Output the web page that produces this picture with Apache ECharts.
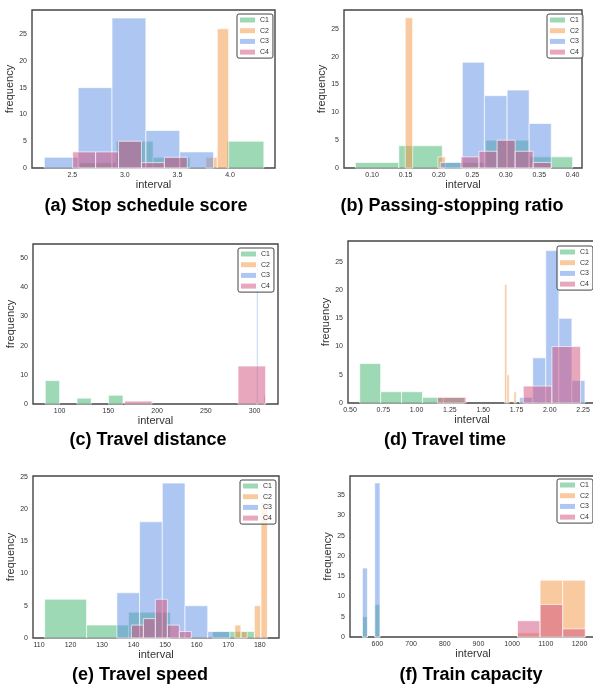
<!DOCTYPE html>
<html>
<head>
<meta charset="utf-8">
<script src="https://cdn.jsdelivr.net/npm/echarts@6/dist/echarts.min.js"></script>
<style>html,body{margin:0;padding:0;background:#fff}#c{width:593px;height:686px}</style>
</head>
<body>
<div id="c"></div>
<script>
// ---- DATA: each bin = [binStart, binEnd, count] ----
const categories = ['C1', 'C2', 'C3', 'C4'];

// (a) Stop schedule score
const scheduleC1 = [[2.567,2.918,1],[2.918,3.269,5],[3.269,3.62,2],[3.971,4.322,5]];
const scheduleC2 = [[3.771,3.879,2],[3.879,3.987,26]];
const scheduleC3 = [[2.234,2.556,2],[2.556,2.878,15],[2.878,3.2,28],[3.2,3.522,7],[3.522,3.844,3]];
const scheduleC4 = [[2.504,2.722,3],[2.722,2.94,3],[2.94,3.158,5],[3.158,3.376,1],[3.376,3.594,2]];
const scheduleTicks = [2.5, 3.0, 3.5, 4.0];

// (b) Passing-stopping ratio
const ratioC1 = [[0.075,0.140,1],[0.140,0.205,4],[0.205,0.270,1],[0.270,0.335,5],[0.335,0.400,2]];
const ratioC2 = [[0.1496,0.1607,27],[0.1985,0.2096,2]];
const ratioC3 = [[0.202,0.235,1],[0.235,0.268,19],[0.268,0.302,13],[0.302,0.335,14],[0.335,0.368,8]];
const ratioC4 = [[0.233,0.260,2],[0.260,0.287,3],[0.287,0.314,5],[0.314,0.341,3],[0.341,0.368,1]];
const ratioTicks = [0.10, 0.15, 0.20, 0.25, 0.30, 0.35, 0.40];

// (c) Travel distance
const distanceC1 = [[85.3,100,8],[117.8,132.5,2],[150.2,165,3]];
const distanceC2 = [];
const distanceC3 = [[302,303.4,52],[309.6,311,3]];
const distanceC4 = [[166.7,194.8,1],[283,311.3,13]];
const distanceTicks = [100, 150, 200, 250, 300];

// (d) Travel time
const timeC1 = [[0.573,0.730,7],[0.730,0.887,2],[0.887,1.044,2],[1.044,1.201,1],[1.201,1.358,1]];
const timeC2 = [[1.661,1.678,21],[1.678,1.695,5],[1.731,1.748,2]];
const timeC3 = [[1.774,1.872,1],[1.872,1.970,8],[1.970,2.068,27],[2.068,2.166,15],[2.166,2.264,4]];
const timeC4 = [[1.156,1.371,1],[1.801,2.016,3],[2.016,2.231,10]];
const timeTicks = [0.50, 0.75, 1.00, 1.25, 1.50, 1.75, 2.00, 2.25];

// (e) Travel speed
const speedC1 = [[111.8,125.1,6],[125.1,138.4,2],[138.4,151.7,4],[165.0,178.3,1]];
const speedC2 = [[172.1,174.0,2],[174.1,176.0,1],[178.3,180.3,5],[180.4,182.4,21]];
const speedC3 = [[134.7,141.9,7],[141.9,149.1,18],[149.1,156.3,24],[156.3,163.5,5],[163.5,170.5,1]];
const speedC4 = [[139.3,143.1,2],[143.1,146.9,3],[146.9,150.7,6],[150.7,154.5,2],[154.5,158.3,1]];
const speedTicks = [110, 120, 130, 140, 150, 160, 170, 180];

// (f) Train capacity
const capacityC1 = [[555.5,570.3,5],[592,607.7,8]];
const capacityC2 = [[1016,1083,1],[1083,1150,14],[1150,1217,14]];
const capacityC3 = [[555.5,570.3,17],[592,607.7,38]];
const capacityC4 = [[1016,1083,4],[1083,1150,8],[1150,1217,2]];
const capacityTicks = [600, 700, 800, 900, 1000, 1100, 1200];

const freqTicks25 = [0, 5, 10, 15, 20, 25];
const freqTicks50 = [0, 10, 20, 30, 40, 50];
const freqTicks35 = [0, 5, 10, 15, 20, 25, 30, 35];

const titles = ['(a) Stop schedule score', '(b) Passing-stopping ratio', '(c) Travel distance',
                '(d) Travel time', '(e) Travel speed', '(f) Train capacity'];

// ---- STYLE / LAYOUT ----
const FONT = 'Liberation Sans, Arial, Helvetica, sans-serif';
const fills = ['rgba(59,179,107,0.5)', 'rgba(243,147,65,0.5)', 'rgba(93,141,229,0.5)', 'rgba(209,79,123,0.5)'];
const pale = ['#9dd9b5', '#f9c9a0', '#aec6f2', '#e8a7bd'];

const panels = [
  { grid:{left:32, top:10, width:243, height:158}, x:[2.117,4.428], ymax:29.5, xt:scheduleTicks, dec:1, yt:freqTicks25,
    data:[scheduleC1,scheduleC2,scheduleC3,scheduleC4], leg:{left:237, top:14}, tpos:[146,206] },
  { grid:{left:344, top:10, width:238, height:158}, x:[0.058,0.414], ymax:28.4, xt:ratioTicks, dec:2, yt:freqTicks25,
    data:[ratioC1,ratioC2,ratioC3,ratioC4], leg:{left:547, top:14}, tpos:[452,206] },
  { grid:{left:33, top:244, width:245, height:160}, x:[72.7,324], ymax:54.8, xt:distanceTicks, dec:0, yt:freqTicks50,
    data:[distanceC1,distanceC2,distanceC3,distanceC4], leg:{left:238, top:248}, tpos:[148,440] },
  { grid:{left:348, top:241, width:248, height:162}, x:[0.485,2.347], ymax:28.7, xt:timeTicks, dec:2, yt:freqTicks25,
    data:[timeC1,timeC2,timeC3,timeC4], leg:{left:557, top:246}, tpos:[445,440] },
  { grid:{left:33, top:476, width:246, height:162}, x:[108.1,186.1], ymax:25.1, xt:speedTicks, dec:0, yt:freqTicks25,
    data:[speedC1,speedC2,speedC3,speedC4], leg:{left:240, top:480}, tpos:[140,675] },
  { grid:{left:350, top:476, width:246, height:161}, x:[518.6,1249], ymax:39.7, xt:capacityTicks, dec:0, yt:freqTicks35,
    data:[capacityC1,capacityC2,capacityC3,capacityC4], leg:{left:557, top:479}, tpos:[471,675] }
];

function makeRender(fill) {
  return function (params, api) {
    const x0 = api.value(0), x1 = api.value(1), h = api.value(2);
    const p0 = api.coord([x0, h]);
    const p1 = api.coord([x1, 0]);
    return {
      type: 'rect',
      shape: { x: p0[0], y: p0[1], width: p1[0] - p0[0], height: p1[1] - p0[1] },
      style: { fill: fill, stroke: 'rgba(255,255,255,0.65)', lineWidth: 1 }
    };
  };
}

const option = {
  animation: false,
  backgroundColor: '#fff',
  textStyle: { fontFamily: FONT },
  grid: [], xAxis: [], yAxis: [], legend: [], title: [], series: []
};

panels.forEach((p, i) => {
  option.grid.push(Object.assign({
    show: true, borderColor: '#444', borderWidth: 1.4, backgroundColor: 'transparent',
    containLabel: false, outerBoundsMode: 'none'
  }, p.grid));
  option.xAxis.push({
    type: 'value', gridIndex: i, min: p.x[0], max: p.x[1],
    name: 'interval', nameLocation: 'middle', nameGap: 11,
    nameTextStyle: { fontSize: 11, color: '#333', fontFamily: FONT },
    axisLine: { show: false }, axisTick: { show: false }, splitLine: { show: false },
    axisLabel: { customValues: p.xt, formatter: (v) => Number(v).toFixed(p.dec),
                 fontSize: 7, color: '#333', margin: 4, fontFamily: FONT }
  });
  option.yAxis.push({
    type: 'value', gridIndex: i, min: 0, max: p.ymax,
    name: 'frequency', nameLocation: 'middle', nameGap: 14,
    nameTextStyle: { fontSize: 11, color: '#333', fontFamily: FONT },
    axisLine: { show: false }, axisTick: { show: false }, splitLine: { show: false },
    axisLabel: { customValues: p.yt, formatter: (v) => String(v),
                 fontSize: 7, color: '#333', margin: 5, fontFamily: FONT }
  });
  option.legend.push({
    left: p.leg.left, top: p.leg.top, orient: 'vertical', selectedMode: false,
    data: categories.map((c, k) => ({ name: c, itemStyle: { color: pale[k], opacity: 1 } })),
    icon: 'rect', itemWidth: 15, itemHeight: 5, itemGap: 2.7,
    padding: [2, 4, 2, 3], borderColor: '#444', borderWidth: 1, borderRadius: 2,
    backgroundColor: 'rgba(255,255,255,0.8)',
    textStyle: { fontSize: 7, color: '#333', lineHeight: 8, fontFamily: FONT }
  });
  option.title.push({
    text: titles[i], left: p.tpos[0], top: p.tpos[1] - 9, textAlign: 'center', padding: 0,
    textStyle: { fontSize: 18, fontWeight: 'bold', color: '#000', fontFamily: FONT, lineHeight: 18 }
  });
  categories.forEach((c, k) => {
    option.series.push({
      type: 'custom', name: c, xAxisIndex: i, yAxisIndex: i,
      renderItem: makeRender(fills[k]),
      itemStyle: { color: pale[k] },
      encode: { x: [0, 1], y: 2 },
      data: p.data[k]
    });
  });
});

const chart = echarts.init(document.getElementById('c'), null, { renderer: 'canvas' });
chart.setOption(option);
</script>
</body>
</html>
